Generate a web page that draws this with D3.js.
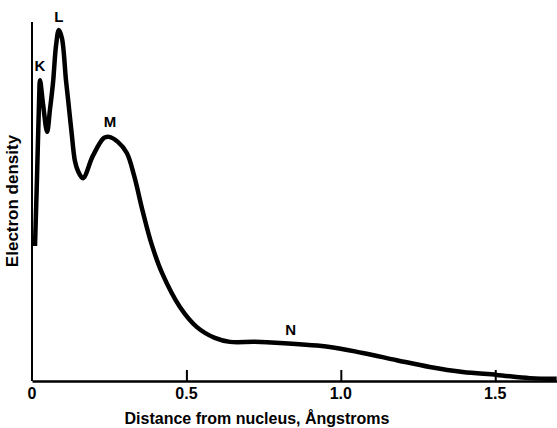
<!DOCTYPE html>
<html>
<head>
<meta charset="utf-8">
<script src="https://cdn.jsdelivr.net/npm/d3@7"></script>
<style>
  body { margin: 0; background: #fff; }
  text { font-family: "Liberation Sans", Arial, sans-serif; font-weight: bold; fill: #000; }
</style>
</head>
<body>
<svg width="557" height="428"></svg>
<script>
// radial electron density (distance in Angstroms, density in arbitrary units)
var radius = [0.0097, 0.016, 0.023, 0.026, 0.036, 0.049, 0.058, 0.068, 0.078, 0.087,
  0.097, 0.110, 0.117, 0.129, 0.139, 0.149, 0.165, 0.197, 0.233, 0.249,
  0.278, 0.307, 0.330, 0.359, 0.388, 0.421, 0.479, 0.534, 0.592, 0.641,
  0.722, 0.803, 0.964, 1.071, 1.181, 1.288, 1.395, 1.505, 1.612, 1.699];
var density = [37.6, 56.0, 78.3, 83.8, 76.9, 69.4, 75.5, 83.0, 93.6, 97.8,
  95.5, 83.8, 78.3, 68.5, 61.3, 58.5, 56.5, 62.7, 67.7, 68.0,
  66.6, 63.5, 57.4, 47.1, 37.9, 30.1, 20.6, 15.0, 12.0, 10.9,
  10.9, 10.6, 9.5, 7.8, 5.8, 3.9, 2.5, 1.7, 0.8, 0.6];

var shellNames = ['K', 'L', 'M', 'N'];
var shellR = [0.026, 0.087, 0.249, 0.838];
var shellD = [83.8, 97.8, 68.0, 10.5];

var xTicks = [0, 0.5, 1.0, 1.5];
var xTickLabels = ['0', '0.5', '1.0', '1.5'];

var svg = d3.select('svg'),
    width = +svg.attr('width'),
    height = +svg.attr('height');

var x = d3.scaleLinear().domain([0, 1.7]).range([32, 557]);
var y = d3.scaleLinear().domain([0, 100]).range([381, 22]);

var data = radius.map(function(r, i) {
  return { r: r, d: density[i] };
});

// axes
svg.append('line')
  .attr('x1', x(0)).attr('x2', x(0))
  .attr('y1', y(100)).attr('y2', y(0))
  .attr('stroke', '#000').attr('stroke-width', 2);

var xAxis = d3.axisBottom(x)
  .tickValues(xTicks.slice(1))
  .tickSize(-11)
  .tickSizeOuter(0)
  .tickFormat('');

var gx = svg.append('g')
  .attr('transform', 'translate(0,' + y(0) + ')')
  .call(xAxis);
gx.select('.domain').attr('stroke-width', 2.5);
gx.selectAll('.tick line').attr('stroke-width', 2);

svg.selectAll('.xlab')
  .data(xTicks)
  .enter().append('text')
  .attr('class', 'xlab')
  .attr('x', function(d) { return x(d); })
  .attr('y', 399)
  .attr('text-anchor', 'middle')
  .style('font-size', '16px')
  .text(function(d, i) { return xTickLabels[i]; });

svg.append('text')
  .attr('x', 257)
  .attr('y', 424)
  .attr('text-anchor', 'middle')
  .style('font-size', '16px')
  .text('Distance from nucleus, Ångstroms');

svg.append('text')
  .attr('transform', 'translate(18,201) rotate(-90)')
  .attr('text-anchor', 'middle')
  .style('font-size', '17px')
  .text('Electron density');

// curve
var line = d3.line()
  .x(function(d) { return x(d.r); })
  .y(function(d) { return y(d.d); })
  .curve(d3.curveCatmullRom.alpha(0.5));

svg.append('path')
  .datum(data)
  .attr('d', line)
  .attr('fill', 'none')
  .attr('stroke', '#000')
  .attr('stroke-width', 4.5)
  .attr('stroke-linejoin', 'round');

// shell labels
var offsets = [[0, -9], [0, -8], [1, -10], [0, -8]];
svg.selectAll('.shell')
  .data(shellNames)
  .enter().append('text')
  .attr('class', 'shell')
  .attr('x', function(d, i) { return x(shellR[i]) + offsets[i][0]; })
  .attr('y', function(d, i) { return y(shellD[i]) + offsets[i][1]; })
  .attr('text-anchor', 'middle')
  .style('font-size', '15px')
  .text(function(d) { return d; });
</script>
</body>
</html>
